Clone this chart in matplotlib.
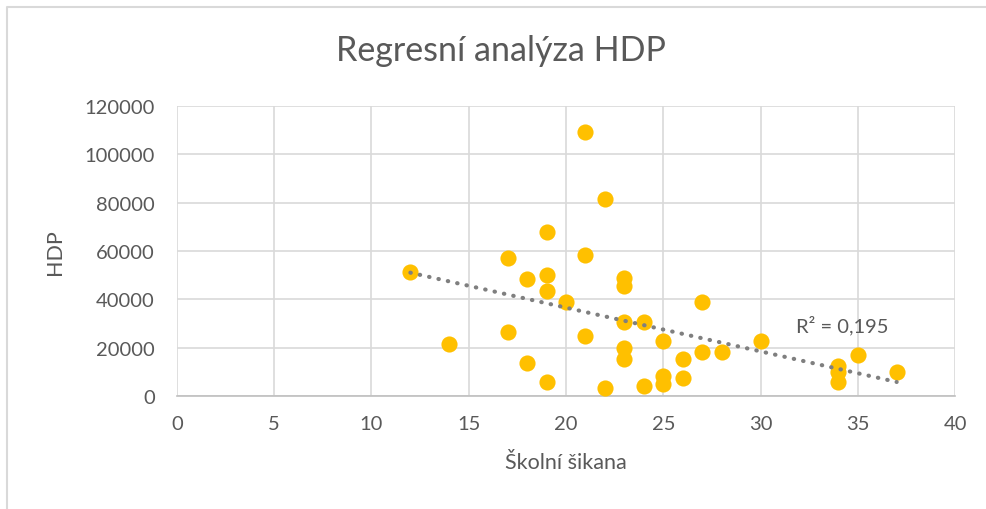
import numpy as np
import matplotlib
matplotlib.use("Agg")
import matplotlib.pyplot as plt
from matplotlib.lines import Line2D

# data
sikana = [12, 14, 17, 17, 18, 18, 19, 19, 19, 19, 20, 21, 21, 21, 22, 22,
          23, 23, 23, 23, 23, 24, 24, 25, 25, 25, 26, 26, 27, 27, 28, 30,
          34, 34, 34, 35, 37]
hdp = [51200, 21400, 57000, 26600, 48300, 13800, 67700, 50200, 43400, 5900,
       39000, 109400, 58300, 24800, 81600, 3200,
       48700, 45400, 30700, 19700, 15300, 30700, 4300, 22700, 8100, 5000,
       15300, 7400, 39000, 18100, 18300, 22600,
       12500, 9900, 5900, 17000, 9800]
x_ticks = [0, 5, 10, 15, 20, 25, 30, 35, 40]
y_ticks = [0, 20000, 40000, 60000, 80000, 100000, 120000]
r2_label = "R² = 0,195"

plt.rcParams['font.family'] = ['Lato', 'DejaVu Sans']
txt = '#595959'

fig = plt.figure(figsize=(9.87, 5.10), dpi=100)
ax = fig.add_axes([0.1793, 0.2216, 0.7883, 0.5686])

# chart frame (only top and left edges are visible)
fig.lines.append(Line2D([0.007, 0.007, 1.0], [0.0, 0.984, 0.984], transform=fig.transFigure,
                        color='#d9d9d9', linewidth=1.5))

ax.scatter(sikana, hdp, s=135, color='#FFC000', zorder=3, linewidths=0)

# linear trendline
k, q = np.polyfit(sikana, hdp, 1)
xs = np.array([min(sikana), max(sikana)])
ax.plot(xs, k * xs + q, color='#7f7f7f', linestyle=(0, (0.1, 2.2)),
        linewidth=3, dash_capstyle='round', zorder=4)
ax.text(31.8, 29400, r2_label, fontsize=14.5, color=txt, va='center', ha='left', zorder=5)

ax.set_xlim(0, 40)
ax.set_ylim(0, 120000)
ax.set_xticks(x_ticks)
ax.set_yticks(y_ticks)
ax.grid(True, color='#d9d9d9', linewidth=1.2, zorder=0)
ax.set_axisbelow(True)
for s in ['top', 'right', 'left']:
    ax.spines[s].set_visible(False)
ax.spines['bottom'].set_color('#bfbfbf')
ax.spines['bottom'].set_linewidth(1.2)
ax.tick_params(length=0, labelsize=14.5, labelcolor=txt)
ax.tick_params(axis='x', pad=14)
ax.tick_params(axis='y', pad=16)

ax.set_xlabel('Školní šikana', fontsize=15.5, color=txt, labelpad=14)
ax.set_ylabel('HDP', fontsize=15.5, color=txt, labelpad=14)
fig.text(0.508, 0.9, 'Regresní analýza HDP', ha='center', va='center',
         fontsize=24.5, color=txt)

fig.savefig('out.png', dpi=100)
